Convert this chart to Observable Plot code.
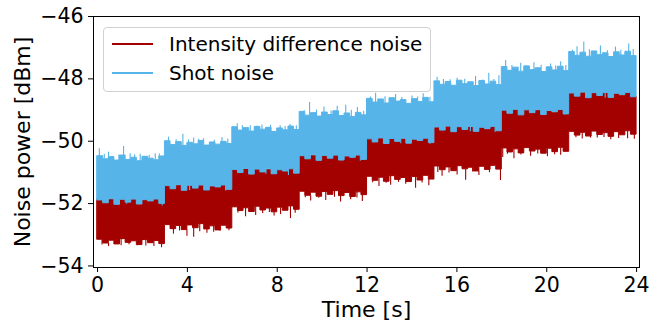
<!DOCTYPE html>
<html>
<head>
<meta charset="utf-8">
<script src="https://cdn.jsdelivr.net/npm/d3@7"></script>
<script src="https://cdn.jsdelivr.net/npm/@observablehq/plot@0.6"></script>
<style>
  body { margin: 0; background: #fff; }
  #wrap { position: relative; width: 649px; height: 324px; font-family: "DejaVu Sans", sans-serif; }
  #legend { position: absolute; left: 103px; top: 27px; width: 326px; height: 63px;
    border: 1px solid #d0d0d0; border-radius: 4px; background: rgba(255,255,255,0.85); }
  #legend .row { position: absolute; left: 8px; height: 24px; display: flex; align-items: center; font-size: 20px; color: #000; }
  #legend .sw { width: 41px; height: 2px; margin-right: 16px; }
</style>
</head>
<body>
<div id="wrap"></div>
<script>
const dt = 0.25;
const seriesNames = ["Intensity difference noise", "Shot noise"];
const xTicks = [0, 4, 8, 12, 16, 20, 24];
const yTicks = [-54, -52, -50, -48, -46];

const redTop = [
  -51.86,-51.97,-51.88,-52.00,-51.84,-51.94,-51.89,-52.01,-51.85,-51.95,-51.83,-51.98,
  -51.40,-51.52,-51.43,-51.55,-51.39,-51.49,-51.44,-51.56,-51.41,-51.50,-51.38,-51.53,
  -50.88,-51.00,-50.91,-51.03,-50.87,-50.97,-50.92,-51.04,-50.89,-50.99,-50.86,-51.01,
  -50.44,-50.56,-50.47,-50.59,-50.43,-50.53,-50.48,-50.60,-50.45,-50.55,-50.42,-50.57,
  -49.90,-50.02,-49.93,-50.05,-49.89,-49.99,-49.94,-50.06,-49.91,-50.01,-49.88,-50.03,
  -49.52,-49.64,-49.55,-49.67,-49.51,-49.61,-49.56,-49.68,-49.53,-49.63,-49.50,-49.65,
  -48.98,-49.10,-49.01,-49.13,-48.97,-49.07,-49.02,-49.14,-48.99,-49.09,-48.96,-49.11,
  -48.43,-48.55,-48.46,-48.58,-48.42,-48.52,-48.47,-48.59,-48.44,-48.54,-48.41,-48.56
];
const redBottom = [
  -53.16,-53.28,-53.19,-53.31,-53.14,-53.26,-53.21,-53.33,-53.17,-53.27,-53.20,-53.30,
  -52.69,-52.82,-52.72,-52.85,-52.70,-52.79,-52.66,-52.83,-52.73,-52.86,-52.71,-52.80,
  -52.12,-52.24,-52.15,-52.27,-52.10,-52.22,-52.16,-52.28,-52.13,-52.23,-52.09,-52.20,
  -51.62,-51.75,-51.65,-51.78,-51.63,-51.72,-51.60,-51.76,-51.66,-51.79,-51.64,-51.73,
  -51.14,-51.27,-51.17,-51.30,-51.12,-51.24,-51.18,-51.31,-51.15,-51.26,-51.11,-51.23,
  -50.81,-50.93,-50.84,-50.96,-50.80,-50.90,-50.85,-50.97,-50.82,-50.92,-50.79,-50.91,
  -50.23,-50.36,-50.26,-50.39,-50.22,-50.33,-50.27,-50.40,-50.24,-50.35,-50.21,-50.34,
  -49.70,-49.82,-49.73,-49.85,-49.69,-49.80,-49.74,-49.86,-49.71,-49.81,-49.68,-49.79
];
const blueTop = [
  -50.48,-50.58,-50.51,-50.62,-50.46,-50.60,-50.53,-50.64,-50.50,-50.56,-50.61,-50.49,
  -50.00,-50.12,-50.03,-50.15,-50.05,-50.10,-49.99,-50.14,-50.04,-50.11,-50.02,-50.09,
  -49.55,-49.66,-49.58,-49.69,-49.54,-49.63,-49.57,-49.70,-49.59,-49.65,-49.53,-49.64,
  -49.06,-49.18,-49.10,-49.21,-49.08,-49.16,-49.04,-49.19,-49.11,-49.22,-49.09,-49.17,
  -48.64,-48.76,-48.66,-48.79,-48.62,-48.73,-48.68,-48.80,-48.65,-48.74,-48.61,-48.75,
  -48.08,-48.19,-48.10,-48.22,-48.06,-48.17,-48.11,-48.23,-48.07,-48.18,-48.09,-48.20,
  -47.62,-47.74,-47.64,-47.77,-47.60,-47.72,-47.66,-47.78,-47.63,-47.73,-47.61,-47.75,
  -47.14,-47.26,-47.16,-47.29,-47.12,-47.24,-47.18,-47.30,-47.15,-47.25,-47.13,-47.27
];
const blueBottom = [
  -51.90,-51.99,-51.86,-52.04,-51.88,-51.97,-51.87,-52.03,-51.89,-51.93,-51.87,-52.01,
  -51.44,-51.54,-51.41,-51.59,-51.43,-51.52,-51.42,-51.58,-51.45,-51.48,-51.42,-51.56,
  -50.92,-51.02,-50.89,-51.07,-50.91,-51.00,-50.90,-51.06,-50.93,-50.97,-50.90,-51.04,
  -50.48,-50.58,-50.45,-50.63,-50.47,-50.56,-50.46,-50.62,-50.49,-50.53,-50.46,-50.60,
  -49.94,-50.04,-49.91,-50.09,-49.93,-50.02,-49.92,-50.08,-49.95,-49.99,-49.92,-50.06,
  -49.56,-49.66,-49.53,-49.71,-49.55,-49.64,-49.54,-49.70,-49.57,-49.61,-49.54,-49.68,
  -49.02,-49.12,-48.99,-49.17,-49.01,-49.10,-49.00,-49.16,-49.03,-49.07,-49.00,-49.14,
  -48.47,-48.57,-48.44,-48.62,-48.46,-48.55,-48.45,-48.61,-48.48,-48.52,-48.45,-48.59
];

// narrow spikes beyond the band edges: [time s, dBm]
const blueTopSpikes = [
  [0.08,-50.24],[0.49,-50.35],[1.16,-50.17],[1.45,-50.40],[1.90,-50.42],[2.57,-50.40],
  [0.30,-50.42],[0.95,-50.44],[1.65,-50.43],[2.30,-50.45],[2.75,-50.41],
  [3.16,-49.87],[3.80,-49.78],[4.28,-49.90],[4.72,-49.92],[5.54,-49.88],
  [3.50,-49.95],[4.05,-49.96],[4.50,-49.94],[5.20,-49.97],[5.80,-49.93],
  [6.22,-49.44],[6.80,-49.50],[7.32,-49.48],[8.13,-49.50],[8.57,-49.46],
  [6.45,-49.50],[7.10,-49.52],[7.70,-49.49],[8.35,-49.53],[8.85,-49.50],
  [9.44,-48.76],[10.08,-48.90],[10.67,-48.88],[11.05,-48.85],[11.57,-48.92],
  [9.20,-49.02],[9.75,-49.00],[10.40,-49.03],[11.30,-49.01],[11.85,-49.04],
  [12.38,-48.46],[13.27,-48.50],[14.00,-48.55],[14.50,-48.48],
  [12.15,-48.58],[12.80,-48.57],[13.55,-48.60],[14.25,-48.58],[14.80,-48.59],
  [15.12,-47.95],[16.01,-47.98],[16.83,-47.92],[17.42,-47.82],[17.87,-47.90],
  [15.40,-48.02],[15.70,-48.03],[16.35,-48.01],[17.15,-48.04],[17.65,-48.02],
  [18.17,-47.41],[18.84,-47.50],[19.43,-47.48],[20.17,-47.52],[20.62,-47.45],
  [18.45,-47.57],[19.10,-47.58],[19.75,-47.56],[20.40,-47.59],[20.85,-47.57],
  [21.35,-46.97],[21.65,-46.82],[22.39,-46.95],[23.06,-46.98],[23.65,-46.88],
  [21.15,-47.08],[21.90,-47.07],[22.70,-47.10],[23.30,-47.08],[23.85,-47.06]
];
const redBottomSpikes = [
  [0.49,-53.38],[1.77,-53.35],[2.51,-53.38],[2.85,-53.42],
  [0.20,-53.33],[1.05,-53.35],[1.40,-53.32],[2.15,-53.36],
  [3.38,-52.98],[3.98,-53.05],[4.28,-53.08],[4.87,-52.95],[5.17,-52.92],
  [3.65,-52.88],[4.55,-52.90],[5.45,-52.89],[5.85,-52.87],
  [6.59,-52.42],[7.04,-52.38],[7.86,-52.40],[8.15,-52.35],[8.59,-52.48],
  [6.25,-52.30],[7.35,-52.32],[7.65,-52.29],[8.80,-52.31],
  [9.49,-51.92],[10.16,-51.90],[10.82,-51.95],[11.27,-51.88],[11.79,-51.93],
  [9.25,-51.81],[9.85,-51.83],[10.55,-51.80],[11.55,-51.82],
  [12.53,-51.45],[13.05,-51.41],[13.72,-51.38],[14.16,-51.51],[14.75,-51.43],
  [12.25,-51.33],[12.85,-51.35],[13.40,-51.32],[14.45,-51.34],
  [15.34,-51.12],[16.01,-51.08],[16.39,-51.25],[16.98,-51.10],[17.94,-51.26],
  [15.15,-51.00],[15.65,-51.02],[16.70,-50.99],[17.45,-51.01],
  [18.04,-50.52],[18.54,-50.56],[19.28,-50.48],[20.03,-50.50],[20.62,-50.45],
  [18.25,-50.42],[18.85,-50.44],[19.60,-50.41],[20.35,-50.43],
  [21.58,-49.93],[22.25,-49.90],[22.85,-49.95],[23.60,-49.92],[23.90,-49.94],
  [21.30,-49.89],[21.95,-49.90],[22.55,-49.88],[23.20,-49.91]
];
const redTopSpikes = [
  [0.62,-51.80],[2.20,-51.78],[3.70,-51.33],[5.02,-51.31],[6.95,-50.84],[8.40,-50.82],
  [10.35,-50.40],[11.40,-50.38],[12.90,-49.86],[14.30,-49.84],[15.80,-49.45],[17.10,-49.43],
  [19.00,-48.90],[20.40,-48.92],[22.00,-48.38],[23.30,-48.37]
];
const blueBottomSpikes = [
  [1.30,-52.02],[2.88,-52.08],[4.10,-51.58],[5.70,-51.60],[7.50,-51.06],[8.50,-51.10],
  [9.90,-50.62],[11.70,-50.64],[13.50,-50.08],[14.80,-50.10],[16.60,-49.70],[17.70,-49.72],
  [18.90,-49.18],[20.80,-49.16],[22.60,-48.62],[23.80,-48.60]
];

// ---- build tables ----
function band(lo, hi) {
  const rows = lo.map((v, i) => ({t: i * dt, lo: v, hi: hi[i]}));
  rows.push({t: lo.length * dt, lo: lo[lo.length - 1], hi: hi[hi.length - 1]});
  return rows;
}
const idx = t => Math.min(95, Math.floor(t / dt));
const redBand = band(redBottom, redTop);
const blueBand = band(blueBottom, blueTop);
const RED = "#a30000", BLUE = "#56b4e9";

const chart = Plot.plot({
  width: 649, height: 324,
  marginLeft: 93, marginRight: 10, marginTop: 16, marginBottom: 57,
  style: {fontFamily: "DejaVu Sans, sans-serif", fontSize: "20.5px", color: "#000", background: "#fff"},
  x: {domain: [-0.18, 24.13], ticks: xTicks, tickSize: 5, tickPadding: 5, label: null, tickFormat: d => String(d)},
  y: {domain: [-54.05, -46], ticks: yTicks, tickSize: 5, tickPadding: 5, label: null},
  marks: [
    Plot.areaY(redBand, {x: "t", y1: "lo", y2: "hi", curve: "step-after", fill: RED, stroke: RED, strokeWidth: 1}),
    Plot.ruleX(redBottomSpikes, {x: d => d[0], y1: d => d[1], y2: d => redBottom[idx(d[0])], stroke: RED, strokeWidth: 1.1}),
    Plot.ruleX(redTopSpikes, {x: d => d[0], y1: d => d[1], y2: d => redTop[idx(d[0])], stroke: RED, strokeWidth: 1.1}),
    Plot.areaY(blueBand, {x: "t", y1: "lo", y2: "hi", curve: "step-after", fill: BLUE, stroke: BLUE, strokeWidth: 1}),
    Plot.ruleX(blueTopSpikes, {x: d => d[0], y1: d => d[1], y2: d => blueTop[idx(d[0])], stroke: BLUE, strokeWidth: 1.1}),
    Plot.ruleX(blueBottomSpikes, {x: d => d[0], y1: d => d[1], y2: d => blueBottom[idx(d[0])], stroke: BLUE, strokeWidth: 1.1}),
    Plot.frame({stroke: "#000", strokeWidth: 1}),
    Plot.text(["Time [s]"], {frameAnchor: "bottom", lineAnchor: "middle", dy: 42, fontSize: 22}),
    Plot.text(["Noise power [dBm]"], {frameAnchor: "left", textAnchor: "middle", lineAnchor: "middle", dx: -71, rotate: -90, fontSize: 22})
  ]
});
const wrap = document.getElementById("wrap");
wrap.appendChild(chart);

const legend = document.createElement("div");
legend.id = "legend";
const colors = [RED, BLUE];
seriesNames.forEach((name, i) => {
  const row = document.createElement("div");
  row.className = "row";
  row.style.top = (i === 0 ? 4 : 33) + "px";
  const sw = document.createElement("span");
  sw.className = "sw";
  sw.style.background = colors[i];
  row.appendChild(sw);
  row.appendChild(document.createTextNode(name));
  legend.appendChild(row);
});
wrap.appendChild(legend);
</script>
</body>
</html>
